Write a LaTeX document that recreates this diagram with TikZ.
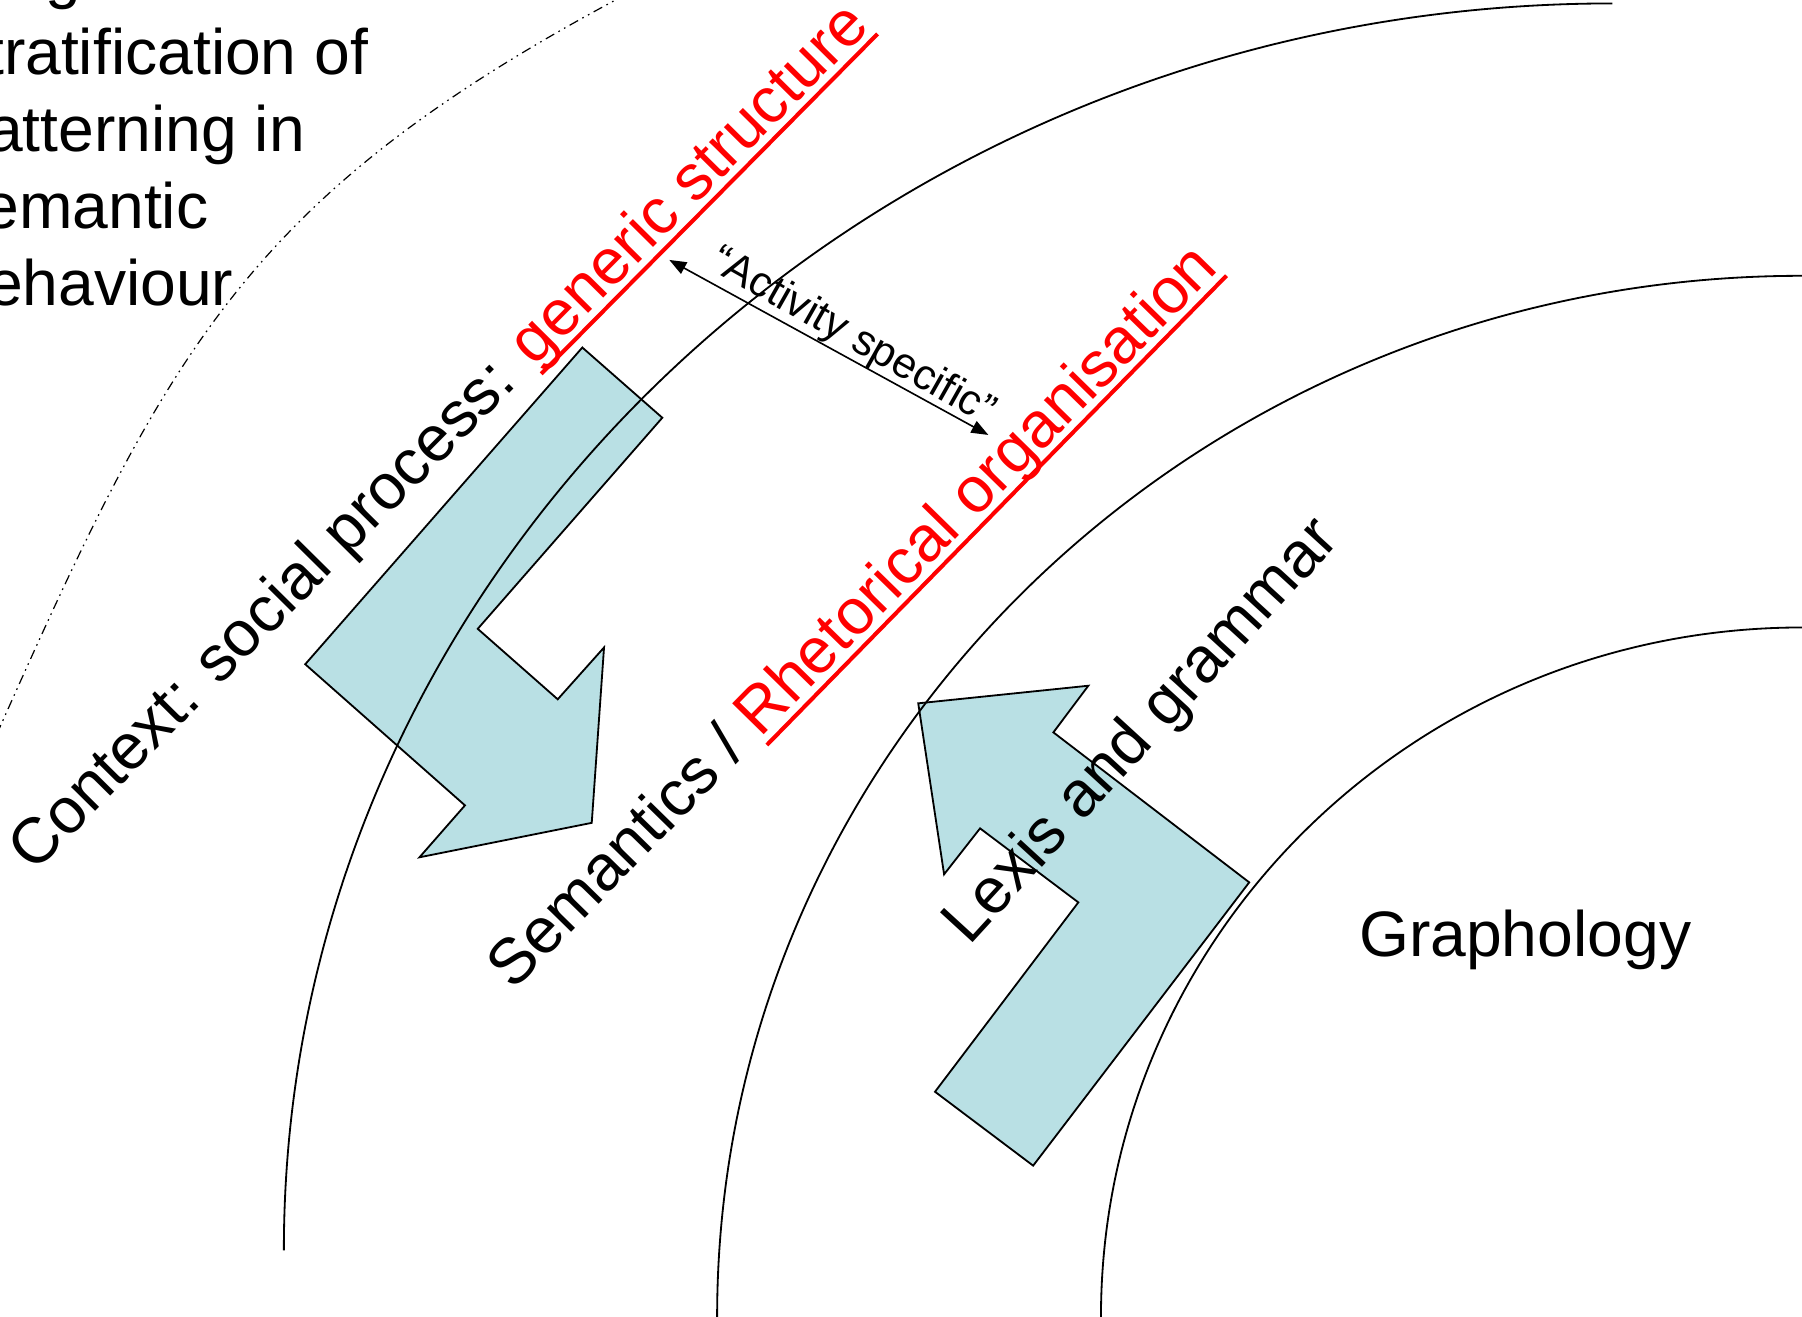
\documentclass[tikz,border=0pt]{standalone}
\usepackage{fontspec}
\setmainfont{Liberation Sans}
\usetikzlibrary{arrows.meta}

\definecolor{arrowfill}{RGB}{185,224,228}
\newcommand{\biglabel}{\fontsize{15.9}{19.1}\selectfont}
\newcommand{\smalllabel}{\fontsize{10.6}{13}\selectfont}
% underlined run of text
\newsavebox{\runbox}
\newcommand{\underrun}[1]{\sbox{\runbox}{#1}\rlap{\rule[-2.7pt]{\wd\runbox}{1pt}}\usebox{\runbox}}

\begin{document}
\begin{tikzpicture}[x=0.1mm, y=-0.1mm,
  stratum/.style={line width=0.45pt},
  outerline/.style={line width=0.3pt, dash pattern=on 2.4pt off 1.2pt on 0.4pt off 1.2pt on 0.4pt off 1.2pt},
  bigarrow/.style={draw, fill=arrowfill, line width=0.45pt},
  tag/.style={font=\biglabel, inner sep=0pt, anchor=base west}]
  \useasboundingbox (0,0) rectangle (1568,1146);
  \clip (0,0) rectangle (1568,1146);

  % realisation arrows
  \draw[bigarrow] (506.7,302.4) -- (576.3,363.5) -- (415.7,547.2) -- (485.3,608.5)
    -- (525.6,563.4) -- (514.9,716) -- (365,746) -- (404.6,700.8) -- (265.6,578) -- cycle;
  \draw[bigarrow] (799,612) -- (947,596.7) -- (916.6,637.3) -- (1087,767.8)
    -- (899,1014.3) -- (813.6,950) -- (938.3,785.2) -- (852.8,720.8) -- (821.5,760.8) -- cycle;

  % strata
  \draw[outerline] (545,-5) .. controls (209.5,173.2) and (144.7,307.7) .. (-10,655);
  \draw[stratum] (247,1088) .. controls (247,488.8) and (764.5,3) .. (1403,3);
  \draw[stratum] (624,1146) .. controls (624,645.6) and (1046.6,240) .. (1568,240);
  \draw[stratum] (958,1146) .. controls (958,814.6) and (1231.1,546) .. (1568,546);

  % labels
  \node[tag] (gtail) at (39,-3) {g};
  \node[tag] (line1) at (-50,65) {Stratification of};
  \foreach \w [count=\i from 2] in {patterning in, semantic, behaviour}
    \node[tag] (line\i) at (-43,-2+67*\i) {\w};

  \node[tag, rotate=45.3] (context) at (29.5,760.4)
    {Context: social process: \textcolor{red}{\underrun{generic structure}}};
  \node[tag, rotate=45.6] (semantics) at (446.2,863)
    {Semantics / \textcolor{red}{\underrun{Rhetorical organisation}}};
  \node[tag, rotate=47.5] (lexis) at (843,824) {Lexis and grammar};
  \node[tag] (graphology) at (1182,832) {Graphology};

  \coordinate (genre) at (582.4,226.2);
  \coordinate (register) at (860,378.5);
  \draw[{Triangle[length=4.2pt,width=3.2pt]}-{Triangle[length=4.2pt,width=3.2pt]}, line width=0.4pt] (genre) -- (register);
  \node[font=\smalllabel, inner sep=0pt, anchor=base, rotate=-29.5] (activity) at (737,302) {“Activity specific”};
\end{tikzpicture}
\end{document}
